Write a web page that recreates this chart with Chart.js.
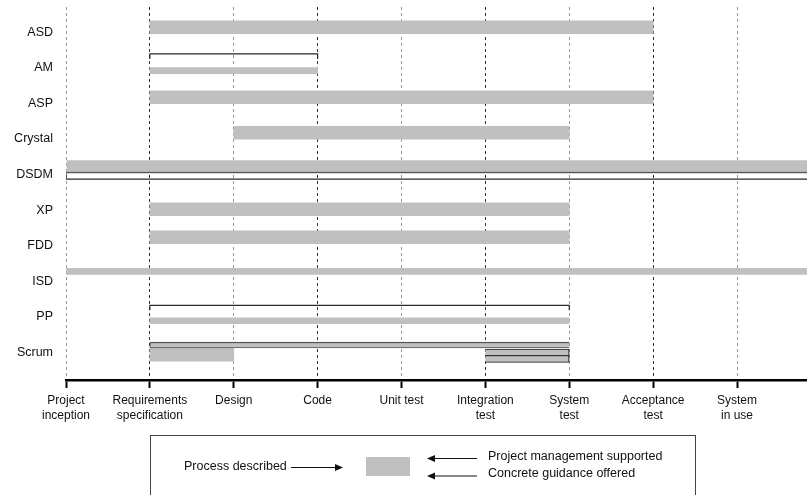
<!doctype html>
<html lang="en">
<head>
<meta charset="utf-8">
<title>Life-cycle coverage of agile methods</title>
<style>
  html, body { margin: 0; padding: 0; background: #fff; }
  #wrap { width: 807px; height: 495px; }
</style>
</head>
<body>
<div id="wrap"><canvas id="chart"></canvas></div>
<script src="https://cdn.jsdelivr.net/npm/chart.js"></script>
<script>
const methods = ['ASD', 'AM', 'ASP', 'Crystal', 'DSDM', 'XP', 'FDD', 'ISD', 'PP', 'Scrum'];
const phases = [['Project', 'inception'], ['Requirements', 'specification'], 'Design', 'Code', 'Unit test',
  ['Integration', 'test'], ['System', 'test'], ['Acceptance', 'test'], ['System', 'in use']];

// coverage in phase steps, 9 = runs on past "System in use"
const wideSpans   = [[1, 7], null, [1, 7], [2, 6], [0, 9], [1, 6], [1, 6], null, null, [1, 2]];
const narrowSpans = [null, [1, 3], null, null, null, null, null, [0, 9], [1, 6], [1, 6]];
const bracketSpans = [null, [1, 3], null, null, [0, 9], null, null, null, [1, 6], null];
const scrumStripes = [[5, 6], [5, 6]];

// layout: pixel nudges of the marks against each row's label
const ROW_PX = 35.56;
const wideNudge   = [-5, 0, -6.1, -6.3, -7.8, -0.8, -8.4, 0, 0, 2.4];
const narrowNudge = [0, 2.7, 0, 0, 0, 0, 0, -9.9, 4, -7.3];
const bracketNudge = [0, -13.9, 0, 0, 4.5, 0, 0, 0, -11.5, 0];
const hookPx       = [0, 5, 0, 0, -7, 0, 0, 0, 5, 0];
const stripeNudge  = [0.1, 6.6];

const GRAY = '#c0c0c0';
const FONT = "'Liberation Sans', Arial, sans-serif";
const u = px => px / ROW_PX;

const toBars = (spans, nudge) => spans
  .map((s, i) => s ? { x: s, y: i + u(nudge[i]), row: i } : null)
  .filter(Boolean);

const bracketSets = bracketSpans.map((s, i) => {
  if (!s) return null;
  const y = i + u(bracketNudge[i]);
  const hy = y + u(hookPx[i]);
  const pts = [{ x: s[0], y: hy }, { x: s[0], y: y }, { x: s[1], y: y }];
  if (hookPx[i] > 0) pts.push({ x: s[1], y: hy });
  return {
    type: 'scatter', indexAxis: 'x', data: pts, showLine: true,
    borderColor: '#2a2a2a', borderWidth: 1.2, pointRadius: 0, pointHoverRadius: 0,
    tension: 0, fill: false, order: 0
  };
}).filter(Boolean);

const legendBox = {
  id: 'legendBox',
  afterDraw(chart) {
    const { ctx } = chart;
    ctx.save();
    ctx.strokeStyle = '#444';
    ctx.lineWidth = 1;
    ctx.strokeRect(150.5, 435.5, 545, 80);

    ctx.fillStyle = GRAY;
    ctx.fillRect(366, 457, 44, 19);

    ctx.fillStyle = '#111';
    ctx.strokeStyle = '#111';
    ctx.font = '12.5px ' + FONT;
    ctx.textBaseline = 'middle';
    ctx.textAlign = 'left';
    ctx.fillText('Process described', 184, 467);
    ctx.fillText('Project management supported', 488, 457);
    ctx.fillText('Concrete guidance offered', 488, 474);

    const arrow = (x1, x2, y) => {
      const dir = Math.sign(x2 - x1);
      ctx.beginPath();
      ctx.moveTo(x1, y);
      ctx.lineTo(x2 - dir * 7, y);
      ctx.stroke();
      ctx.beginPath();
      ctx.moveTo(x2, y);
      ctx.lineTo(x2 - dir * 8, y - 3.5);
      ctx.lineTo(x2 - dir * 8, y + 3.5);
      ctx.closePath();
      ctx.fill();
    };
    ctx.lineWidth = 1;
    arrow(291, 343, 467.5);
    arrow(477, 427, 458.5);
    arrow(477, 427, 476);
    ctx.restore();
  }
};

new Chart(document.getElementById('chart'), {
  type: 'bar',
  data: {
    datasets: [
      ...bracketSets,
      {
        data: scrumStripes.map((s, k) => ({ x: s, y: 9 + u(stripeNudge[k]), row: 9 })),
        backgroundColor: GRAY, borderColor: '#222', barThickness: 6.8,
        borderWidth: { top: 1, bottom: 1, right: 1.2 }, borderSkipped: false,
        grouped: false, order: 1
      },
      {
        data: toBars(narrowSpans, narrowNudge),
        backgroundColor: GRAY, borderColor: '#555', barThickness: 6,
        borderWidth: c => c.raw && c.raw.row === 9 ? { top: 1.5, bottom: 1.2, left: 1 } : 0,
        borderSkipped: false, grouped: false, order: 2
      },
      {
        data: toBars(wideSpans, wideNudge),
        backgroundColor: GRAY, borderColor: '#5a5a5a', barThickness: 12.8,
        borderWidth: c => c.raw && c.raw.row === 4 ? { bottom: 1.6 } : 0,
        borderSkipped: false, grouped: false, order: 3
      }
    ]
  },
  options: {
    indexAxis: 'y',
    responsive: true,
    maintainAspectRatio: false,
    animation: false,
    layout: { padding: { top: 7, left: 0, right: 0, bottom: 0 } },
    plugins: { legend: { display: false }, tooltip: { enabled: false } },
    scales: {
      x: {
        type: 'linear', position: 'bottom', min: 0, max: 741 / 83.875,
        afterBuildTicks: s => { s.ticks = phases.map((p, i) => ({ value: i })); },
        afterFit: s => { s.height = 115; s.paddingLeft = 0; s.paddingRight = 0; },
        ticks: {
          autoSkip: false, maxRotation: 0, padding: 5,
          color: '#111', font: { family: FONT, size: 12, lineHeight: 1.25 },
          callback: v => phases[v]
        },
        grid: {
          color: c => c.index % 2 ? '#333' : '#999', lineWidth: 1,
          tickLength: 8, tickWidth: 2, tickColor: '#000'
        },
        border: { display: true, color: '#000', width: 2.5, dash: [3, 3] }
      },
      y: {
        type: 'linear', reverse: true, offset: false,
        min: (7 - 32.3) / ROW_PX, max: (380 - 32.3) / ROW_PX,
        afterBuildTicks: s => { s.ticks = methods.map((m, i) => ({ value: i })); },
        afterFit: s => { s.width = 66; s.paddingTop = 0; s.paddingBottom = 0; },
        ticks: {
          autoSkip: false, padding: 13,
          color: '#111', font: { family: FONT, size: 12.5 },
          callback: v => methods[v]
        },
        grid: { display: false, drawTicks: false },
        border: { display: false }
      }
    }
  },
  plugins: [legendBox]
});
</script>
</body>
</html>
